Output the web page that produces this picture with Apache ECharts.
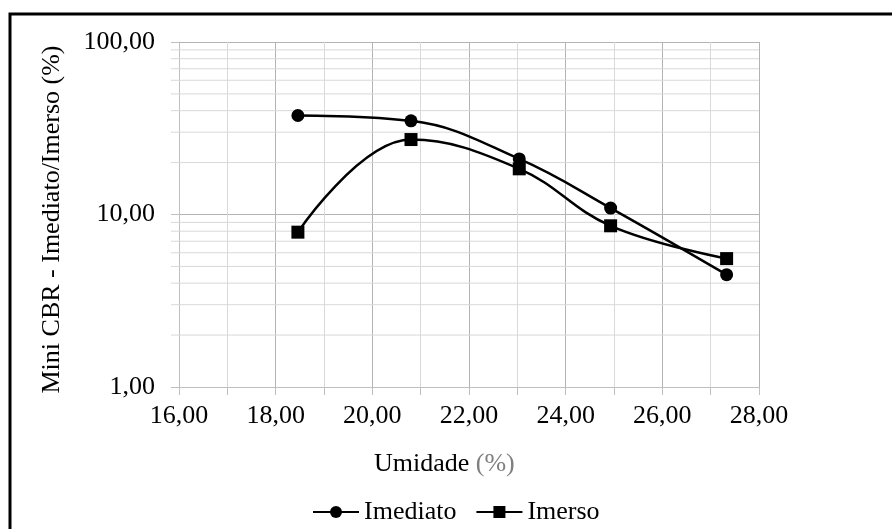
<!DOCTYPE html>
<html>
<head>
<meta charset="utf-8">
<style>
  html, body { margin: 0; padding: 0; background: #fff; }
  #chart { width: 892px; height: 529px; }
</style>
<script src="https://cdn.jsdelivr.net/npm/echarts@6/dist/echarts.min.js"></script>
</head>
<body>
<div id="chart"></div>
<script>
// Umidade (%) for each specimen
const umidade = [18.46, 20.80, 23.04, 24.93, 27.33];
// Mini CBR (%) values
const imediato = [37.5, 34.9, 21.0, 10.9, 4.48];
const imerso = [7.9, 27.2, 18.4, 8.6, 5.55];
const seriesNames = ['Imediato', 'Imerso'];

// axis ranges and log grid values
const xMin = 16, xMax = 28, xStep = 2;
const yMin = 1, yMax = 100;
const yMinorGrid = [2, 3, 4, 5, 6, 7, 8, 9, 20, 30, 40, 50, 60, 70, 80, 90];

const FONT = 'Liberation Serif';
const FS = 26;
const fmt = v => Number(v).toFixed(2).replace('.', ',');
const pairs = ys => umidade.map((x, i) => [x, ys[i]]);

const chart = echarts.init(document.getElementById('chart'), null, { renderer: 'canvas' });

chart.setOption({
  animation: false,
  backgroundColor: '#ffffff',
  textStyle: { fontFamily: FONT, color: '#000' },
  graphic: [{
    type: 'rect',
    shape: { x: 10, y: 14, width: 900, height: 540 },
    style: { fill: 'none', stroke: '#000', lineWidth: 3 },
    silent: true
  }],
  title: {
    text: 'Umidade {g|(%)}',
    left: 369,
    top: 446,
    textStyle: {
      fontFamily: FONT, fontSize: FS, fontWeight: 'normal', color: '#000',
      rich: { g: { fontFamily: FONT, fontSize: FS, color: '#7f7f7f' } }
    }
  },
  legend: {
    data: seriesNames,
    left: 307,
    top: 494,
    itemWidth: 46,
    itemHeight: 15,
    itemGap: 19,
    textStyle: { fontFamily: FONT, fontSize: FS, color: '#000' }
  },
  grid: { left: 179, right: 133, top: 42, bottom: 142, containLabel: false },
  xAxis: {
    type: 'value',
    min: xMin, max: xMax, interval: xStep,
    axisLine: { show: true, lineStyle: { color: '#bfbfbf', width: 1 } },
    axisTick: { show: true, length: 8, lineStyle: { color: '#bfbfbf' } },
    minorTick: { show: true, splitNumber: 2, length: 8, lineStyle: { color: '#bfbfbf' } },
    splitLine: { show: true, lineStyle: { color: '#b3b3b3', width: 1 } },
    minorSplitLine: { show: true, lineStyle: { color: '#d9d9d9', width: 1 } },
    axisLabel: { formatter: fmt, fontFamily: FONT, fontSize: FS, color: '#000', margin: 16 }
  },
  yAxis: {
    type: 'log',
    logBase: 10,
    min: yMin, max: yMax,
    name: 'Mini CBR - Imediato/Imerso (%)',
    nameLocation: 'middle',
    nameGap: 114,
    nameTextStyle: { fontFamily: FONT, fontSize: FS, color: '#000', padding: [0, 10, 0, 0] },
    axisLine: { show: true, lineStyle: { color: '#bfbfbf', width: 1 } },
    axisTick: { show: true, length: 8, lineStyle: { color: '#bfbfbf' } },
    splitLine: { show: true, lineStyle: { color: '#b3b3b3', width: 1 } },
    axisLabel: { formatter: fmt, fontFamily: FONT, fontSize: FS, color: '#000', margin: 24 }
  },
  series: [
    {
      // intermediate log-decade grid lines with their outer ticks
      type: 'custom',
      name: 'grid',
      silent: true,
      clip: false,
      z: 1,
      data: yMinorGrid.map(v => [xMin, v]),
      renderItem: (params, api) => {
        const p0 = api.coord([api.value(0), api.value(1)]);
        const p1 = api.coord([xMax, api.value(1)]);
        return {
          type: 'line',
          shape: { x1: p0[0] - 8, y1: p0[1], x2: p1[0], y2: p1[1] },
          style: { stroke: '#d9d9d9', lineWidth: 1 }
        };
      }
    },
    {
      name: seriesNames[0],
      type: 'line',
      z: 3,
      data: pairs(imediato),
      smooth: 0.4,
      symbol: 'circle',
      symbolSize: 13,
      lineStyle: { color: '#000', width: 2.5 },
      itemStyle: { color: '#000' }
    },
    {
      name: seriesNames[1],
      type: 'line',
      z: 3,
      data: pairs(imerso),
      smooth: 0.4,
      symbol: 'rect',
      symbolSize: 13,
      lineStyle: { color: '#000', width: 2.5 },
      itemStyle: { color: '#000' }
    }
  ]
});
</script>
</body>
</html>
